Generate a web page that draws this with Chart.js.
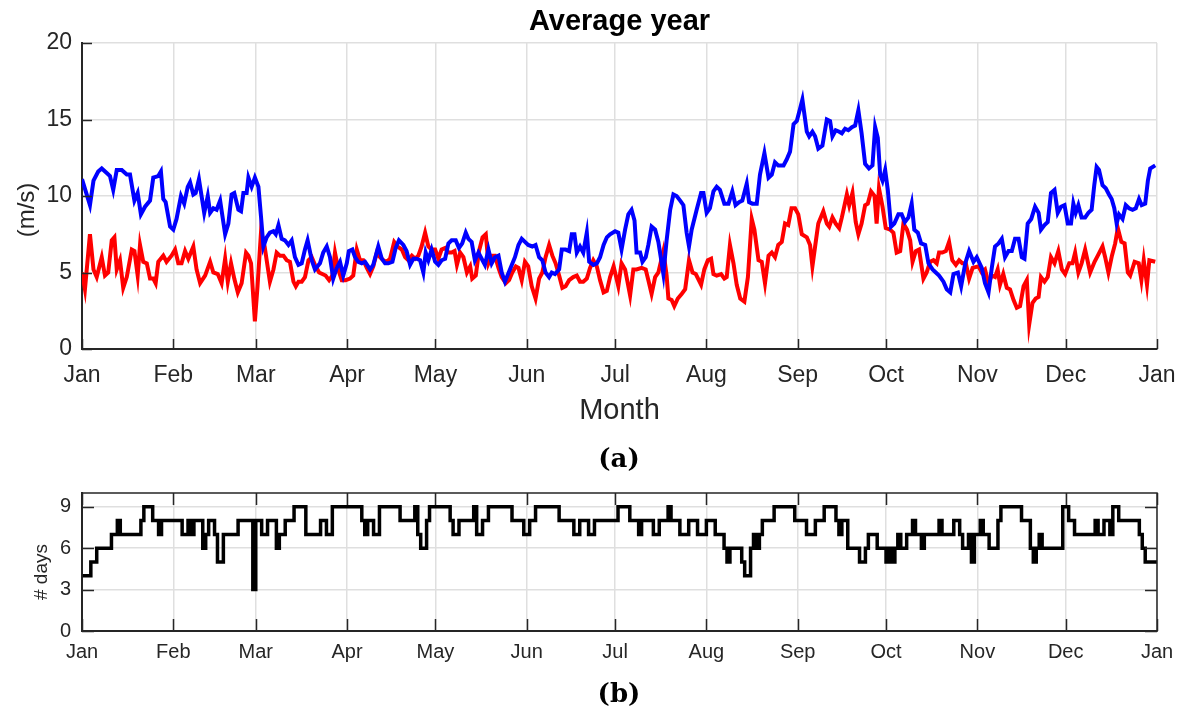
<!DOCTYPE html>
<html>
<head>
<meta charset="utf-8">
<script src="https://cdn.jsdelivr.net/npm/chart.js@4.4.1/dist/chart.umd.min.js"></script>
<style>
  html, body { margin: 0; padding: 0; background: #fff; }
  #page { position: relative; width: 1184px; height: 713px; overflow: hidden; }
  #speedChart { position: absolute; left: 0; top: 0; }
  #daysChart { position: absolute; left: 0; top: 470px; }
  .caption {
    position: absolute; transform: translateX(-50%);
    font-family: 'DejaVu Serif', serif; font-weight: bold; font-size: 26px; color: #000;
  }
</style>
</head>
<body>
<div id="page">
  <canvas id="speedChart" width="1184" height="470"></canvas>
  <canvas id="daysChart" width="1184" height="243"></canvas>
  <div class="caption" style="left:619px; top:443px">(a)</div>
  <div class="caption" style="left:619px; top:678px">(b)</div>
</div>
<script>
// month ticks (day of year)
const monthNames = ['Jan', 'Feb', 'Mar', 'Apr', 'May', 'Jun', 'Jul', 'Aug', 'Sep', 'Oct', 'Nov', 'Dec', 'Jan'];
const monthStart = [0, 31, 59, 90, 120, 151, 181, 212, 243, 273, 304, 334, 365];

// blue series (m/s)
const blueDays = [
  0.0, 2.7, 3.9, 5.5, 6.7, 8.4, 9.5, 10.6, 11.8, 13.5, 15.2, 16.3, 17.8, 18.9, 20.0, 21.4, 23.1, 24.2, 25.9, 26.8,
  27.6, 28.4, 29.9, 31.0, 32.1, 33.6, 34.7, 35.9, 36.7, 37.8, 38.6, 39.7, 41.5, 42.7, 43.5, 44.6, 45.7, 46.9, 48.6, 49.7,
  50.8, 51.7, 53.1, 54.0, 54.8, 55.9, 56.5, 57.6, 58.7, 59.9, 60.8, 61.6, 62.7, 63.8, 65.0, 65.8, 66.7, 67.8, 68.9, 70.1,
  71.2, 72.3, 73.5, 74.6, 75.7, 76.6, 78.0, 79.1, 80.8, 81.9, 83.1, 84.2, 85.3, 86.5, 87.6, 88.7, 89.9, 90.6, 91.8, 92.7,
  93.8, 95.0, 96.1, 97.8, 98.9, 100.6, 101.8, 102.9, 104.0, 105.4, 106.5, 107.6, 109.1, 110.2, 111.4, 112.5, 113.6, 114.8, 115.9, 116.7,
  117.6, 118.7, 119.9, 121.0, 122.1, 123.3, 124.4, 125.5, 126.9, 128.0, 129.1, 130.3, 131.2, 132.3, 133.4, 134.6, 135.7, 136.8, 138.0, 139.1,
  140.2, 141.4, 142.5, 143.6, 145.3, 147.0, 148.2, 149.3, 150.4, 151.5, 152.9, 154.0, 155.2, 156.3, 157.4, 158.6, 159.5, 160.6, 162.0, 162.9,
  164.2, 165.4, 166.3, 167.2, 168.0, 169.1, 170.2, 171.4, 172.2, 173.6, 174.8, 175.9, 177.1, 178.2, 179.3, 181.0, 182.1, 183.2, 184.4, 185.5,
  186.6, 187.6, 188.3, 189.5, 190.3, 191.4, 192.3, 193.4, 194.6, 195.7, 197.4, 198.5, 199.7, 200.8, 201.9, 203.1, 204.2, 205.3, 206.1, 207.0,
  208.7, 210.2, 211.0, 212.1, 213.2, 214.4, 215.5, 216.6, 218.1, 219.5, 220.8, 221.9, 223.1, 224.2, 225.7, 226.5, 227.6, 229.1, 230.2, 231.7,
  233.1, 234.2, 235.3, 236.4, 238.2, 239.3, 240.4, 241.6, 242.7, 243.8, 244.6, 246.1, 246.9, 248.0, 248.9, 250.0, 251.4, 252.9, 254.0, 254.8,
  255.9, 257.1, 258.0, 259.1, 260.2, 261.4, 262.5, 263.6, 264.7, 265.9, 267.2, 268.4, 269.3, 270.2, 271.0, 271.8, 272.7, 273.6, 274.7, 275.8,
  277.2, 278.3, 279.4, 280.6, 281.7, 282.6, 283.8, 284.9, 286.3, 287.4, 288.8, 289.9, 291.0, 292.5, 293.6, 294.8, 295.9, 297.4, 298.5, 299.9,
  301.2, 302.7, 303.8, 305.5, 306.6, 307.8, 308.9, 310.0, 311.2, 312.3, 313.4, 314.6, 315.7, 316.8, 318.0, 319.1, 320.0, 321.1, 322.3, 323.6,
  324.8, 325.6, 326.8, 327.9, 329.0, 330.2, 331.3, 332.4, 333.6, 334.7, 335.8, 336.6, 337.4, 338.3, 339.4, 340.6, 341.7, 342.8, 343.7, 344.5,
  345.3, 346.5, 347.6, 348.7, 349.6, 350.5, 351.3, 352.1, 353.3, 354.4, 355.5, 356.7, 357.8, 358.9, 359.8, 361.0, 361.9, 362.7, 364.4
];
const blueSpeed = [
  11.1, 9.4, 11.0, 11.6, 11.8, 11.5, 11.3, 10.4, 11.7, 11.7, 11.4, 11.4, 9.7, 10.2, 8.8, 9.3, 9.7, 11.2, 11.3, 11.6,
  9.8, 9.6, 8.0, 7.8, 8.5, 10.0, 9.5, 10.6, 10.9, 10.1, 10.2, 11.1, 8.9, 10.0, 8.9, 9.2, 9.1, 9.7, 7.5, 8.2,
  10.1, 10.2, 9.1, 9.0, 10.2, 10.2, 11.2, 10.6, 11.2, 10.6, 8.6, 6.7, 7.3, 7.6, 7.7, 7.5, 8.1, 7.2, 7.1, 6.8,
  7.1, 6.0, 5.5, 5.6, 6.5, 7.1, 5.8, 5.2, 5.6, 6.3, 6.7, 6.0, 4.6, 5.3, 5.7, 4.8, 5.6, 6.4, 6.5, 6.0,
  5.7, 5.6, 5.7, 5.2, 5.5, 6.7, 5.9, 5.6, 5.6, 5.7, 6.6, 7.1, 6.8, 6.4, 5.5, 5.9, 5.9, 5.8, 5.0, 6.3,
  5.8, 6.5, 5.7, 5.5, 5.8, 5.9, 6.9, 7.1, 7.1, 6.6, 6.9, 7.6, 7.2, 7.0, 5.8, 6.3, 5.9, 5.5, 6.5, 5.6,
  6.0, 6.1, 5.0, 4.4, 5.2, 6.0, 6.8, 7.2, 7.0, 6.8, 6.7, 6.8, 6.0, 5.8, 5.0, 4.7, 5.0, 4.9, 5.2, 6.5,
  6.5, 6.4, 7.5, 7.5, 6.3, 6.7, 6.3, 7.6, 5.7, 5.5, 5.6, 6.0, 6.8, 7.3, 7.5, 7.7, 7.6, 6.5, 7.8, 8.8,
  9.1, 8.4, 6.3, 6.3, 5.7, 6.0, 6.8, 8.0, 7.8, 7.0, 4.9, 7.1, 9.1, 10.1, 10.0, 9.7, 9.4, 7.6, 6.7, 7.8,
  9.1, 10.2, 10.2, 8.9, 9.2, 10.3, 10.6, 10.4, 9.5, 9.5, 10.3, 9.4, 9.6, 9.7, 10.8, 9.6, 9.5, 9.5, 11.4, 12.8,
  11.2, 11.4, 12.2, 12.0, 12.0, 12.4, 12.9, 14.7, 14.9, 15.7, 16.3, 14.2, 13.9, 14.2, 13.9, 13.1, 13.3, 15.0, 14.9, 13.9,
  14.3, 14.2, 14.1, 14.4, 14.3, 14.5, 14.6, 15.6, 14.1, 12.1, 11.8, 12.0, 14.5, 13.8, 11.4, 11.0, 11.7, 10.4, 8.0, 8.2,
  8.8, 8.8, 8.3, 8.6, 9.5, 7.8, 7.6, 6.9, 6.8, 5.6, 5.2, 5.0, 4.8, 4.4, 3.9, 3.7, 4.9, 5.0, 4.1, 5.6,
  6.4, 5.7, 6.0, 5.3, 4.3, 3.7, 5.3, 6.7, 6.9, 7.2, 6.0, 6.4, 6.4, 7.2, 7.2, 6.0, 5.9, 8.2, 8.5, 9.3,
  8.9, 7.8, 8.1, 8.3, 10.2, 10.4, 8.9, 9.3, 9.4, 8.2, 8.2, 9.5, 8.9, 9.4, 8.6, 8.6, 8.9, 9.1, 10.7, 11.9,
  11.7, 10.7, 10.5, 10.1, 9.8, 9.2, 8.2, 8.8, 8.5, 9.4, 9.2, 9.1, 9.2, 9.8, 9.4, 9.5, 11.0, 11.8, 12.0
];

// red series (m/s)
const redDays = [
  0.0, 1.0, 2.7, 3.9, 5.0, 6.7, 7.8, 8.9, 10.1, 11.0, 11.8, 12.9, 14.0, 15.2, 16.9, 17.8, 18.9, 19.7, 20.8, 22.0,
  23.1, 24.2, 25.0, 25.9, 27.6, 28.7, 30.4, 31.6, 32.7, 33.8, 35.0, 36.1, 37.8, 38.9, 40.1, 41.8, 43.5, 44.6, 46.1, 47.4,
  48.6, 49.5, 50.6, 51.7, 52.9, 54.2, 55.7, 56.5, 57.4, 58.7, 59.6, 60.8, 62.0, 63.8, 65.0, 66.1, 67.2, 68.4, 69.5, 70.6,
  71.8, 72.6, 73.5, 74.6, 75.7, 76.9, 78.0, 79.1, 80.5, 81.6, 82.7, 83.9, 85.0, 85.9, 87.0, 88.2, 89.5, 91.0, 92.1, 93.3,
  94.4, 95.5, 96.7, 97.8, 98.9, 100.1, 101.2, 102.3, 103.5, 104.6, 106.0, 107.2, 108.6, 109.7, 110.8, 112.0, 113.1, 114.2, 115.3, 116.5,
  117.6, 118.7, 119.9, 121.0, 122.1, 123.3, 124.4, 125.5, 126.5, 127.3, 128.4, 129.5, 130.7, 131.8, 132.5, 133.7, 134.8, 136.0, 137.1, 138.0,
  139.1, 140.2, 141.4, 142.5, 143.9, 145.0, 146.1, 147.3, 148.2, 149.3, 150.4, 151.5, 152.7, 154.0, 155.2, 156.3, 157.4, 158.6, 159.7, 160.8,
  162.0, 163.1, 164.2, 165.4, 166.8, 168.0, 169.1, 170.2, 171.4, 172.5, 173.6, 174.8, 175.9, 177.1, 178.2, 179.3, 180.5, 182.1, 183.2, 184.4,
  186.1, 187.2, 188.3, 190.0, 191.4, 192.3, 193.4, 194.6, 195.7, 197.4, 198.5, 199.1, 200.2, 201.1, 202.3, 203.6, 204.8, 206.1, 207.3, 208.4,
  210.2, 211.3, 212.5, 213.6, 214.4, 215.5, 217.0, 218.1, 218.9, 220.0, 221.2, 222.3, 223.5, 224.9, 226.1, 227.4, 228.3, 229.7, 230.8, 231.9,
  233.1, 234.2, 235.3, 236.4, 237.6, 238.7, 239.8, 240.9, 242.1, 243.2, 244.4, 246.1, 247.2, 248.0, 249.2, 250.0, 251.7, 252.9, 253.7, 254.8,
  255.9, 257.1, 258.0, 259.7, 260.5, 261.6, 262.7, 263.6, 264.7, 265.9, 266.8, 267.9, 269.1, 269.8, 270.6, 271.8, 272.9, 274.4, 275.5, 276.6,
  277.8, 278.9, 280.1, 281.2, 282.0, 283.1, 284.2, 285.7, 286.8, 288.0, 289.1, 290.2, 291.0, 292.1, 293.3, 294.4, 295.5, 296.7, 297.8, 298.9,
  300.1, 301.2, 302.4, 304.4, 305.5, 306.6, 307.8, 308.9, 310.0, 310.9, 311.7, 312.8, 314.0, 315.1, 316.3, 317.4, 318.5, 319.7, 320.8, 321.6,
  322.7, 323.8, 324.8, 325.6, 326.8, 327.9, 329.0, 330.2, 331.5, 332.7, 333.8, 335.2, 336.3, 337.2, 338.3, 339.4, 340.6, 342.3, 343.8, 344.9,
  346.5, 347.4, 348.5, 349.7, 350.8, 351.7, 352.9, 354.0, 355.1, 355.9, 357.4, 358.8, 359.7, 360.5, 361.6, 362.4, 364.4
];
const redSpeed = [
  5.0, 3.9, 7.5, 5.2, 4.7, 6.0, 4.8, 5.0, 7.1, 7.3, 5.2, 5.8, 4.0, 4.7, 6.5, 6.4, 4.8, 6.8, 5.7, 5.6,
  4.6, 4.6, 4.3, 5.7, 6.1, 5.7, 6.1, 6.5, 5.6, 5.6, 6.4, 5.9, 6.7, 5.2, 4.3, 4.8, 5.7, 5.0, 4.9, 4.3,
  5.9, 4.4, 5.6, 4.6, 3.7, 4.3, 6.3, 6.1, 5.6, 1.8, 4.1, 7.7, 6.7, 4.4, 5.2, 6.3, 6.1, 6.1, 5.8, 5.7,
  4.4, 4.1, 4.4, 4.4, 4.7, 5.8, 6.0, 5.5, 5.0, 4.9, 4.8, 4.5, 4.8, 6.3, 5.2, 4.5, 4.5, 4.6, 4.8, 6.5,
  5.8, 5.8, 5.3, 4.9, 5.4, 6.3, 6.0, 5.8, 5.7, 5.9, 7.0, 6.7, 6.5, 6.0, 5.8, 6.1, 5.9, 6.1, 6.7, 7.6,
  6.7, 6.5, 6.5, 5.9, 6.5, 6.6, 6.3, 6.3, 6.4, 5.5, 6.3, 6.0, 5.0, 5.4, 4.6, 4.8, 6.4, 7.3, 7.5, 5.6,
  6.1, 6.1, 5.3, 4.7, 4.3, 4.5, 5.0, 5.4, 5.3, 4.5, 5.7, 5.4, 4.1, 3.3, 4.6, 5.0, 6.0, 6.8, 6.1, 5.6,
  4.8, 4.0, 4.1, 4.5, 4.7, 4.8, 4.4, 4.4, 4.6, 5.3, 5.8, 5.4, 4.5, 3.7, 3.8, 4.7, 5.4, 4.1, 5.6, 5.2,
  3.5, 5.2, 5.2, 5.3, 5.2, 4.5, 3.6, 4.7, 5.0, 6.4, 4.8, 3.3, 3.2, 2.8, 3.3, 3.6, 3.9, 5.8, 5.0, 4.9,
  4.2, 5.2, 5.8, 5.9, 4.9, 4.8, 4.9, 4.6, 4.7, 6.8, 5.6, 4.2, 3.3, 3.1, 4.7, 8.5, 7.8, 5.8, 5.7, 4.3,
  6.1, 6.3, 6.0, 6.8, 7.0, 8.2, 8.1, 9.2, 9.2, 8.8, 7.5, 7.3, 6.8, 5.4, 7.1, 8.2, 9.0, 8.2, 8.0, 8.6,
  8.2, 7.9, 8.6, 10.1, 9.4, 10.2, 8.3, 7.5, 8.2, 9.4, 9.5, 10.3, 10.0, 8.2, 10.5, 9.3, 7.9, 7.8, 7.6, 6.3,
  6.4, 8.2, 7.8, 7.1, 5.7, 6.4, 6.5, 4.6, 5.0, 5.7, 5.8, 5.6, 6.3, 6.3, 6.4, 7.0, 5.8, 5.5, 5.8, 5.6,
  5.6, 4.6, 5.3, 5.4, 5.0, 5.2, 4.3, 4.8, 4.7, 5.2, 4.2, 4.9, 4.0, 3.9, 3.2, 2.7, 2.8, 4.1, 4.5, 1.6,
  3.0, 3.3, 3.4, 4.7, 4.4, 4.7, 6.0, 5.6, 6.4, 5.2, 4.9, 5.6, 5.6, 6.3, 5.0, 5.6, 6.5, 5.0, 5.7, 6.1,
  6.7, 6.0, 5.0, 6.1, 6.9, 7.9, 7.0, 6.9, 5.0, 4.8, 5.7, 5.6, 4.5, 5.8, 4.2, 5.8, 5.7
];

// number of days: each count holds from its start day until the next start day
const stepDays = [
  0, 3, 5, 10, 12, 13, 20, 21, 24, 26, 27, 34, 36, 37, 38, 41, 42, 43, 45, 46,
  48, 53, 58, 59, 61, 63, 66, 67, 69, 72, 76, 81, 83, 85, 95, 96, 97, 99, 101, 108,
  113, 114, 115, 117, 118, 125, 126, 128, 133, 134, 136, 138, 146, 150, 152, 154, 162, 167, 169, 172,
  174, 182, 186, 189, 190, 194, 196, 199, 200, 203, 206, 209, 212, 215, 218, 219, 220, 224, 225, 227,
  228, 229, 230, 231, 235, 242, 246, 249, 252, 256, 257, 258, 260, 264, 266, 267, 270, 273, 274, 275,
  276, 277, 278, 280, 282, 283, 285, 286, 291, 292, 296, 298, 299, 301, 302, 303, 305, 306, 308, 311,
  312, 319, 322, 323, 324, 325, 326, 333, 335, 337, 344, 345, 347, 349, 350, 352, 359, 360, 361, 365
];
const stepCount = [
  4, 5, 6, 7, 8, 7, 8, 9, 8, 7, 8, 7, 8, 7, 8, 6, 7, 8, 7, 5,
  7, 8, 3, 8, 7, 8, 6, 7, 8, 9, 7, 8, 7, 9, 8, 7, 8, 7, 9, 8,
  9, 7, 6, 8, 9, 8, 7, 8, 9, 7, 8, 9, 8, 7, 8, 9, 8, 7, 8, 7,
  8, 9, 8, 7, 8, 7, 8, 9, 8, 7, 8, 7, 8, 7, 6, 5, 6, 5, 4, 6,
  7, 6, 7, 8, 9, 8, 7, 8, 9, 8, 7, 8, 6, 5, 6, 7, 6, 5, 6, 5,
  6, 7, 6, 7, 8, 7, 6, 7, 8, 7, 8, 7, 6, 7, 5, 7, 8, 7, 6, 8,
  9, 8, 6, 5, 6, 7, 6, 9, 8, 7, 8, 7, 8, 7, 9, 8, 7, 6, 5, 5
];

const FONT = "'Liberation Sans', Arial, sans-serif";
const TEXT = '#262626';
const AXIS = '#262626';
const GRID = '#dfdfdf';

const toPoints = (xs, ys) => xs.map((x, i) => ({ x, y: ys[i] }));

function monthTicks(scale) {
  scale.ticks = monthStart.map(v => ({ value: v }));
}

// keep the plot edges fixed: no extra room for the end labels
function fixedHeight(h) {
  return s => {
    s.height = h;
    s.paddingLeft = 0;
    s.paddingRight = 0;
  };
}

// MATLAB-style tick marks pointing into the plot area, optional full box
const innerTicks = {
  id: 'innerTicks',
  afterDatasetsDraw(chart, args, opts) {
    const { ctx, chartArea: a, scales: { x, y } } = chart;
    const len = opts.len || 10;
    ctx.save();
    ctx.strokeStyle = AXIS;
    ctx.lineWidth = 1.5;
    ctx.beginPath();
    x.ticks.forEach(t => {
      const px = Math.round(x.getPixelForValue(t.value)) + 0.5;
      ctx.moveTo(px, a.bottom);
      ctx.lineTo(px, a.bottom - len);
      if (opts.box) {
        ctx.moveTo(px, a.top);
        ctx.lineTo(px, a.top + len);
      }
    });
    y.ticks.forEach(t => {
      const py = Math.round(y.getPixelForValue(t.value)) + 0.5;
      ctx.moveTo(a.left, py);
      ctx.lineTo(a.left + len, py);
      if (opts.box) {
        ctx.moveTo(a.right, py);
        ctx.lineTo(a.right - len, py);
      }
    });
    if (opts.box) ctx.rect(a.left, a.top, a.width, a.height);
    ctx.stroke();
    ctx.restore();
  }
};

// rotated y-axis label at a fixed spot
const sideLabel = {
  id: 'sideLabel',
  afterDraw(chart, args, opts) {
    if (!opts.text) return;
    const { ctx } = chart;
    ctx.save();
    ctx.translate(opts.x, opts.y);
    ctx.rotate(-Math.PI / 2);
    ctx.font = `${opts.size}px ${FONT}`;
    ctx.fillStyle = TEXT;
    ctx.textAlign = 'center';
    ctx.textBaseline = 'middle';
    ctx.fillText(opts.text, 0, 0);
    ctx.restore();
  }
};

Chart.register(innerTicks, sideLabel);

new Chart(document.getElementById('speedChart'), {
  type: 'line',
  data: {
    datasets: [
      {
        label: 'blue',
        data: toPoints(blueDays, blueSpeed),
        borderColor: '#0000ff',
        borderWidth: 4,
        pointRadius: 0,
        tension: 0,
        order: 1,
      },
      {
        label: 'red',
        data: toPoints(redDays, redSpeed),
        borderColor: '#ff0000',
        borderWidth: 4,
        pointRadius: 0,
        tension: 0,
        order: 2,
      },
    ],
  },
  options: {
    responsive: false,
    animation: false,
    layout: { padding: { left: 0, right: 27, top: 0, bottom: 0 } },
    plugins: {
      legend: { display: false },
      tooltip: { enabled: false },
      title: {
        display: true,
        fullSize: false,
        text: 'Average year',
        color: '#000',
        font: { family: FONT, size: 29, weight: 'bold' },
        padding: { top: 5, bottom: 3.2 },
      },
      innerTicks: { len: 10, box: false },
      sideLabel: { text: '(m/s)', x: 27, y: 210, size: 24 },
    },
    scales: {
      x: {
        type: 'linear',
        min: 0,
        max: 365,
        afterBuildTicks: monthTicks,
        afterFit: fixedHeight(121),
        grid: { color: GRID, lineWidth: 1.5, drawTicks: false },
        border: { color: AXIS, width: 2 },
        ticks: {
          callback: (v, i) => monthNames[i],
          color: TEXT,
          font: { family: FONT, size: 23 },
          padding: 13,
          maxRotation: 0,
          autoSkip: false,
        },
        title: {
          display: true,
          text: 'Month',
          color: TEXT,
          font: { family: FONT, size: 29 },
          padding: { top: 0, bottom: 41.6 },
        },
      },
      y: {
        min: 0,
        max: 20,
        afterFit(s) { s.width = 82; },
        grid: { color: GRID, lineWidth: 1.5, drawTicks: false },
        border: { color: AXIS, width: 2 },
        ticks: {
          stepSize: 5,
          color: TEXT,
          font: { family: FONT, size: 23 },
          padding: 10,
        },
      },
    },
  },
});

new Chart(document.getElementById('daysChart'), {
  type: 'line',
  data: {
    datasets: [
      {
        label: '# days',
        data: toPoints(stepDays, stepCount),
        borderColor: '#000',
        borderWidth: 3.5,
        pointRadius: 0,
        stepped: 'before',
      },
    ],
  },
  options: {
    responsive: false,
    animation: false,
    layout: { padding: { left: 0, right: 27, top: 20, bottom: 0 } },
    plugins: {
      legend: { display: false },
      tooltip: { enabled: false },
      innerTicks: { len: 12, box: true },
      sideLabel: { text: '# days', x: 42, y: 102, size: 19 },
    },
    scales: {
      x: {
        type: 'linear',
        min: 0,
        max: 365,
        afterBuildTicks: monthTicks,
        afterFit: fixedHeight(82),
        grid: { color: GRID, lineWidth: 1.5, drawTicks: false },
        border: { color: AXIS, width: 2 },
        ticks: {
          callback: (v, i) => monthNames[i],
          color: TEXT,
          font: { family: FONT, size: 20 },
          padding: 9,
          maxRotation: 0,
          autoSkip: false,
        },
      },
      y: {
        min: 0,
        max: 10,
        afterBuildTicks(s) { s.ticks = [0, 3, 6, 9].map(v => ({ value: v })); },
        afterFit(s) { s.width = 82; },
        grid: { color: GRID, lineWidth: 1.5, drawTicks: false },
        border: { color: AXIS, width: 2 },
        ticks: {
          color: TEXT,
          font: { family: FONT, size: 20 },
          padding: 11,
        },
      },
    },
  },
});
</script>
</body>
</html>
